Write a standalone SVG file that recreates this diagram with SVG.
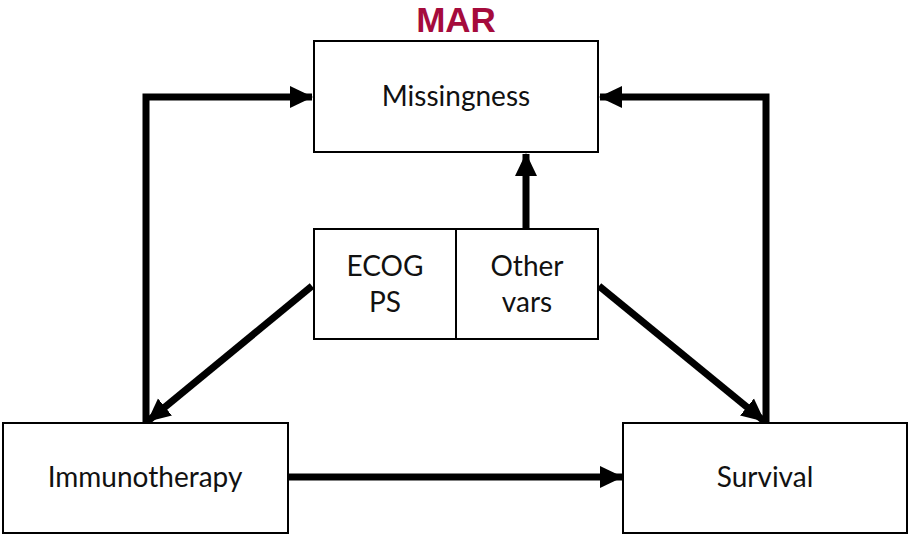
<svg xmlns="http://www.w3.org/2000/svg" width="909" height="535" viewBox="0 0 909 535">
<style>
.box{fill:#fff;stroke:#000;stroke-width:2}
.lbl{font-family:Lato,"Open Sans","Liberation Sans",sans-serif;font-size:28px;fill:#111;text-anchor:middle}
.con{fill:none;stroke:#000;stroke-width:7}
</style>
<defs>
<marker id="ah" markerUnits="userSpaceOnUse" markerWidth="24" markerHeight="24" viewBox="0 0 24 24" refX="22" refY="12" orient="auto">
<path d="M0,1 L23,12 L0,23 Z" fill="#000"/>
</marker>
</defs>
<rect width="909" height="535" fill="#fff"/>
<text x="456" y="32" font-family="'Liberation Sans',Arial,sans-serif" font-weight="bold" font-size="35" fill="#A50B3C" text-anchor="middle">MAR</text>
<g id="connectors">
<path class="con" d="M146,423 L146,97 L312,97" marker-end="url(#ah)"/>
<path class="con" d="M766,423 L766,97 L600,97" marker-end="url(#ah)"/>
<path class="con" d="M526,229 L526,154" marker-end="url(#ah)"/>
<path class="con" d="M312,286 L148,421" marker-end="url(#ah)"/>
<path class="con" d="M599,286 L764,421" marker-end="url(#ah)"/>
<path class="con" d="M288,477 L622,477" marker-end="url(#ah)"/>
</g>
<g id="missingness">
<rect class="box" x="314" y="41" width="284" height="111"/>
<text class="lbl" x="456" y="106">Missingness</text>
</g>
<g id="ecog">
<rect class="box" x="314" y="229" width="142" height="110"/>
<text class="lbl" x="385" y="276">ECOG</text>
<text class="lbl" x="385" y="312">PS</text>
</g>
<g id="othervars">
<rect class="box" x="456" y="229" width="142" height="110"/>
<text class="lbl" x="527" y="276">Other</text>
<text class="lbl" x="527" y="312">vars</text>
</g>
<g id="immunotherapy">
<rect class="box" x="3" y="423" width="285" height="110"/>
<text class="lbl" x="145" y="487">Immunotherapy</text>
</g>
<g id="survival">
<rect class="box" x="623" y="423" width="284" height="110"/>
<text class="lbl" x="765" y="487">Survival</text>
</g>
</svg>
